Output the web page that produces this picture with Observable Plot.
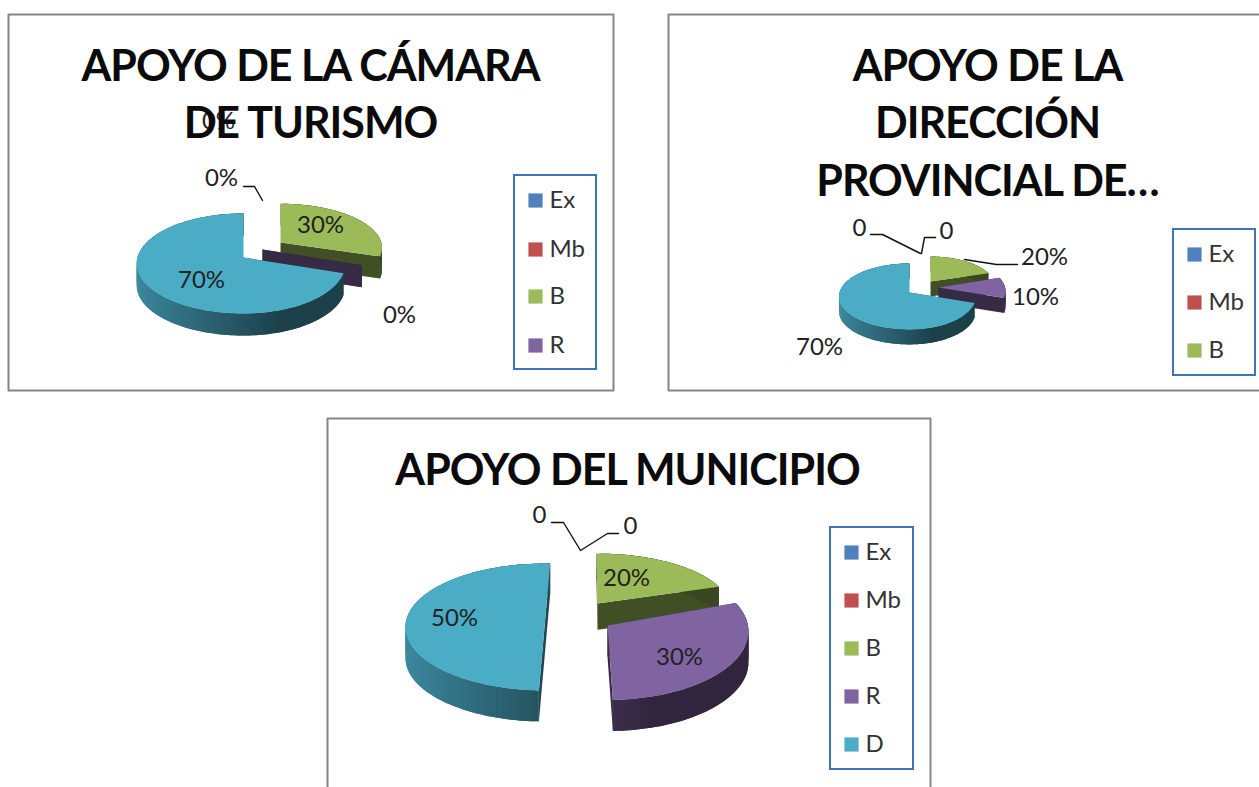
<!DOCTYPE html>
<html><head><meta charset="utf-8">
<style>html,body{margin:0;padding:0;background:#fff;overflow:hidden}svg{display:block}.ttl text{letter-spacing:-1px}</style>
<script src="https://cdn.jsdelivr.net/npm/d3@7"></script>
<script src="https://cdn.jsdelivr.net/npm/@observablehq/plot@0.6"></script>
</head><body><div id="chart"></div>
<script>
const categories = ["Ex","Mb","B","R","D"];
const camara = [0,0,30,0,70];
const direccion = [0,0,20,10,70];
const municipio = [0,0,20,30,50];
const colors = {Ex:"#4F81BD",Mb:"#C0504D",B:"#9BBB59",R:"#8064A2",D:"#4BACC6"};

// layout of the three charts
const charts = [
 {values:camara, rot:0, rx:106, ry:49.3, p:.12, depth:22,
  slices:{B:{x:280,y:242,ky:.88,kx:.95},R:{x:262,y:249,kx:.95},D:{x:243,y:257,kr:.955}},
  title:["APOYO DE LA CÁMARA","DE TURISMO"], titleX:310, titleY:[67,124],
  legend:{n:4,x1:514,x2:596,y1:175,y2:369,ys:[200,249,296,345]},
  labels:[["0%",221,178],["0%",218,121],["0%",399,315],["30%",320,225],["70%",201,280]],
  leaders:[[[243,186],[254,186],[262,200]]]},
 {values:direccion, rot:0, rx:70, ry:32.5, p:.12, depth:15,
  slices:{B:{x:930,y:281,kx:.9,ky:.86},R:{x:938,y:287,kx:.95},D:{x:909,y:292,kr:.94}},
  title:["APOYO DE LA","DIRECCIÓN","PROVINCIAL DE…"], titleX:987, titleY:[67,124,182],
  legend:{n:3,x1:1173,x2:1255,y1:229,y2:375,ys:[254,302,350]},
  labels:[["0",859,228],["0",946,231],["20%",1044,257],["10%",1035,297],["70%",819,347]],
  leaders:[[[870,234],[882,234],[920,253]],[[935,237],[924,237],[921,253]],[[964,259],[996,264],[1017,264]]]},
 {values:municipio, rot:-2, rx:139, ry:63, p:.087, depth:31,
  slices:{B:{x:597,y:603,kx:.945,ky:.86,kd:.85,rot:1.5},R:{x:607,y:625,kx:1.01,ky:1.08},D:{x:544.5,y:621,rot:4.3}},
  title:["APOYO DEL MUNICIPIO"], titleX:627, titleY:[471],
  legend:{n:5,x1:830,x2:913,y1:527,y2:769,ys:[552,600,648,696,744]},
  labels:[["0",539,515],["0",630,526],["20%",626,578],["30%",679,657],["50%",454,618]],
  leaders:[[[551,522],[563,522],[580,550],[607,533],[618,533]]]}
];
const frames = [
 [[8,390],[8,14],[613,14],[613,390],[8,390]],
 [[1259,390],[668,390],[668,14],[1259,14]],
 [[327,787],[327,418],[930,418],[930,787]]
];

function shade(c,f){const o=d3.rgb(c);return d3.rgb(o.r*f,o.g*f,o.b*f).formatHex();}
const polys=[]; let pid=0;
function addPoly(pts,color){const id=pid++;for(const [x,y] of pts)polys.push({x,y,id,color});}

charts.forEach(ch=>{
  const total=d3.sum(ch.values);
  let acc=0;
  const arcs=categories.map((c,i)=>{const r=ch.rot+(ch.slices[c]?.rot??0);const a0=acc/total*360+r;acc+=ch.values[i];return {c,a0,a1:acc/total*360+r};});
  for(const {c,a0,a1} of arcs){
    const s=ch.slices[c]; if(!s) continue;
    const kx=s.kx??1,ky=s.ky??1,kd=s.kd??1,kr=s.kr??1,d=ch.depth*kd,base=colors[c];
    const pt=a=>{const r=a*Math.PI/180,X=Math.sin(r),Y=-Math.cos(r),w=1-ch.p*Y;
      return [s.x+ch.rx*kx*(X>0?kr:1)*X/w, s.y+ch.ry*ky*Y/w, X];};
    const n=Math.max(1,Math.ceil((a1-a0)/1.5));
    const angles=d3.range(n+1).map(i=>a0+(a1-a0)*i/n);
    const rim=angles.map(pt);
    const dn=([x,y])=>[x,y+d];
    const A=[s.x,s.y];
    const cut=shade(base,.42);
    addPoly([A,rim[0],dn(rim[0]),dn(A)],cut);
    addPoly([A,rim[n],dn(rim[n]),dn(A)],cut);
    if(a1>a0){
      for(let i=0;i<n;i++){
        const X=(rim[i][2]+rim[i+1][2])/2;
        const f=X<.3?.38+(.3-X)/1.3*.42:.38;
        // each band runs under the next one, so no seam shows between them
        const j=Math.min(n,i+2);
        addPoly([rim[i],rim[i+1],rim[j],dn(rim[j]),dn(rim[i+1]),dn(rim[i])],shade(base,f));
      }
      addPoly([A,...rim],base);
    }
  }
});

const frameLines=frames.flatMap((f,z)=>f.map(([x,y])=>({x,y,z})));
const leaderLines=charts.flatMap((ch,i)=>ch.leaders.flatMap((l,j)=>l.map(([x,y])=>({x,y,z:i+"-"+j}))));
const labelRows=charts.flatMap(ch=>ch.labels.map(([t,x,y])=>({t,x,y})));
const titleRows=charts.flatMap(ch=>ch.title.map((t,i)=>({t,x:ch.titleX,y:ch.titleY[i]})));
const legendBoxes=charts.map(ch=>ch.legend);
const legendRows=charts.flatMap(ch=>ch.legend.ys.map((y,i)=>({c:categories[i],y,x:ch.legend.x1+21,tx:ch.legend.x1+35})));
const FONT="Lato, 'Open Sans', sans-serif";

const plot=Plot.plot({
  width:1259,height:787,margin:0,
  x:{domain:[0,1259],axis:null},
  y:{domain:[0,787],reverse:true,axis:null},
  color:{type:"identity"},
  style:{background:"#fff",fontFamily:FONT},
  marks:[
    Plot.line(frameLines,{x:"x",y:"y",z:"z",stroke:"#868686",strokeWidth:2,curve:"linear"}),
    Plot.line(polys,{x:"x",y:"y",z:"id",fill:"color",stroke:null,curve:"linear"}),
    Plot.line(leaderLines,{x:"x",y:"y",z:"z",stroke:"#111",strokeWidth:1.4,curve:"linear"}),
    Plot.text(labelRows,{x:"x",y:"y",text:"t",fontSize:24,fill:"#222",fontFamily:FONT}),
    Plot.text(titleRows,{x:"x",y:"y",text:"t",fontSize:43,fontWeight:700,fill:"#0b0b0b",fontFamily:FONT,className:"ttl"}),
    Plot.rect(legendBoxes,{x1:"x1",x2:"x2",y1:"y1",y2:"y2",fill:"#fff",stroke:"#3d75b5",strokeWidth:2}),
    Plot.dot(legendRows,{x:"x",y:"y",symbol:"square",r:8,fill:d=>colors[d.c],stroke:null}),
    Plot.text(legendRows,{x:"tx",y:"y",text:"c",textAnchor:"start",fontSize:24,fill:"#333",fontFamily:FONT})
  ]
});
document.getElementById("chart").append(plot);
</script></body></html>
